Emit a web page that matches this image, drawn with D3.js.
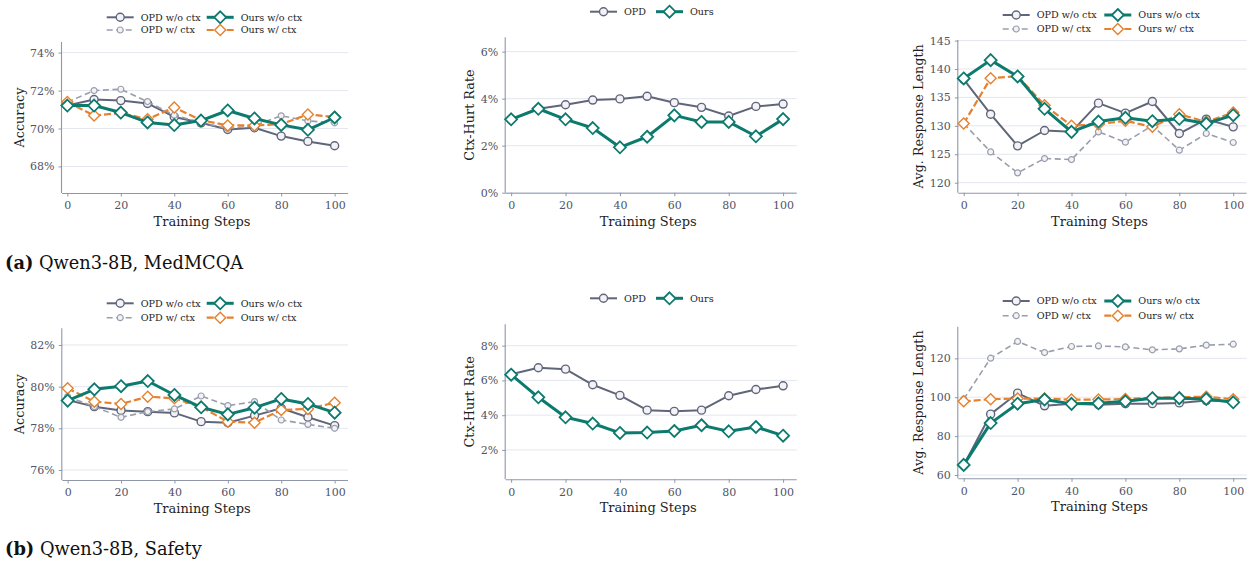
<!DOCTYPE html>
<html><head><meta charset="utf-8">
<script src="https://cdn.jsdelivr.net/npm/d3@7"></script>
<style>body{margin:0;background:#fff} svg{display:block} text{font-family:"DejaVu Serif",serif}</style>
</head><body><svg id="c" width="1251" height="565"></svg>
<script>
// ---------- data ----------
const steps = [0,10,20,30,40,50,60,70,80,90,100];
const xTickValues = [0,20,40,60,80,100];

// (a) Qwen3-8B, MedMCQA
const medAccOpdNoCtx  = [71.21,71.53,71.47,71.32,70.61,70.30,69.95,70.04,69.60,69.32,69.09];
const medAccOpdCtx    = [71.39,72.00,72.07,71.42,70.70,70.32,70.00,70.15,70.67,70.40,70.30];
const medAccOursNoCtx = [71.21,71.21,70.84,70.32,70.18,70.42,70.95,70.53,70.19,69.93,70.58];
const medAccOursCtx   = [71.40,70.68,70.82,70.49,71.11,70.44,70.16,70.16,70.23,70.74,70.61];
const medAccTicks = [68,70,72,74];

const medHurtOpd  = [3.12,3.57,3.74,3.94,3.99,4.10,3.83,3.63,3.26,3.67,3.77];
const medHurtOurs = [3.12,3.57,3.12,2.75,1.93,2.38,3.29,3.01,3.01,2.40,3.13];
const medHurtTicks = [0,2,4,6];

const medLenOpdNoCtx  = [138.16,132.05,126.48,129.18,128.94,133.99,132.23,134.28,128.65,131.17,129.82];
const medLenOpdCtx    = [130.41,125.42,121.73,124.25,124.07,128.94,127.12,130.06,125.72,128.65,127.07];
const medLenOursNoCtx = [138.33,141.56,138.69,132.99,128.94,130.76,131.41,130.82,131.23,130.41,131.88];
const medLenOursCtx   = [130.41,138.39,138.74,133.64,130.00,130.29,130.88,129.82,132.05,130.70,132.35];
const medLenTicks = [120,125,130,135,140,145];

// (b) Qwen3-8B, Safety
const safAccOpdNoCtx  = [79.36,79.04,78.86,78.80,78.74,78.32,78.27,78.61,78.96,78.53,78.13];
const safAccOpdCtx    = [79.52,79.04,78.53,78.80,78.93,79.55,79.09,79.28,78.40,78.19,78.00];
const safAccOursNoCtx = [79.33,79.87,80.02,80.27,79.60,79.01,78.67,78.99,79.41,79.17,78.75];
const safAccOursCtx   = [79.92,79.28,79.17,79.52,79.44,79.02,78.32,78.27,78.88,78.93,79.23];
const safAccTicks = [76,78,80,82];

const safHurtOpd  = [6.36,6.73,6.65,5.75,5.14,4.29,4.22,4.29,5.12,5.48,5.69];
const safHurtOurs = [6.33,5.03,3.88,3.52,2.98,3.00,3.09,3.42,3.07,3.32,2.82];
const safHurtTicks = [2,4,6,8];

const safLenOpdNoCtx  = [65.0,91.3,102.1,95.6,96.6,96.2,96.7,96.7,97.1,98.3,97.9];
const safLenOpdCtx    = [99.0,120.1,128.7,123.0,126.1,126.4,125.9,124.4,124.9,126.8,127.3];
const safLenOursNoCtx = [65.2,86.7,96.7,98.8,96.6,96.9,97.9,99.5,99.5,99.1,97.4];
const safLenOursCtx   = [97.9,99.0,99.3,99.3,98.8,98.8,99.1,99.8,100.0,100.3,99.0];
const safLenTicks = [60,80,100,120];

const labelsFour = ["OPD w/o ctx","OPD w/ ctx","Ours w/o ctx","Ours w/ ctx"];
const labelsTwo = ["OPD","Ours"];
const captions = [["(a)"," Qwen3-8B, MedMCQA"],["(b)"," Qwen3-8B, Safety"]];

// ---------- styles ----------
const C = {opd:"#60667a", opdL:"#9a9eac", teal:"#0d7a6e", orange:"#e5812f"};
const styleOpd     = {color:C.opd,   width:2.0, dash:null,  marker:"circle",  size:4.0,  mw:1.4, fill:"#f3f3f7"};
const styleOpdCtx  = {color:C.opdL,  width:1.6, dash:"6,3.5", marker:"circle", size:3.0, mw:1.2, fill:"#f3f3f7"};
const styleOurs    = {color:C.teal,  width:3.0, dash:null,  marker:"diamond", size:6.0,  mw:1.8, fill:"#ffffff"};
const styleOursCtx = {color:C.orange,width:2.2, dash:"7,3", marker:"diamond", size:5.5,  mw:1.4, fill:"#ffffff"};

const pct = d => d + "%";
const panels = [
  {box:[62,348,42,193],    ydom:[66.6,74.56], ticks:medAccTicks, fmt:pct, ylabel:"Accuracy", ylx:-43,
   series:[[medAccOpdNoCtx,styleOpd],[medAccOpdCtx,styleOpdCtx],[medAccOursCtx,styleOursCtx],[medAccOursNoCtx,styleOurs]],
   legend:{four:true, cols:[106.7,206.7], rows:[17.3,30]}},
  {box:[505.7,796.7,37.3,192.7], ydom:[0,6.61], ticks:medHurtTicks, fmt:pct, ylabel:"Ctx-Hurt Rate", ylx:-36.4,
   series:[[medHurtOpd,styleOpd],[medHurtOurs,styleOurs]],
   legend:{four:false, cols:[590,656], rows:[11.7]}},
  {box:[958.3,1246.7,40,192.7], ydom:[118.24,145.1], ticks:medLenTicks, fmt:d=>d, ylabel:"Avg. Response Length", ylx:-40,
   series:[[medLenOpdNoCtx,styleOpd],[medLenOpdCtx,styleOpdCtx],[medLenOursCtx,styleOursCtx],[medLenOursNoCtx,styleOurs]],
   legend:{four:true, cols:[1002.7,1104.3], rows:[15,29]}},
  {box:[62.3,348,328.3,480], ydom:[75.52,82.8], ticks:safAccTicks, fmt:pct, ylabel:"Accuracy", ylx:-43,
   series:[[safAccOpdNoCtx,styleOpd],[safAccOpdCtx,styleOpdCtx],[safAccOursCtx,styleOursCtx],[safAccOursNoCtx,styleOurs]],
   legend:{four:true, cols:[106.7,206.7], rows:[303.3,317.7]}},
  {box:[505.7,796.7,324.3,479.3], ydom:[0.31,9.23], ticks:safHurtTicks, fmt:pct, ylabel:"Ctx-Hurt Rate", ylx:-36.4,
   series:[[safHurtOpd,styleOpd],[safHurtOurs,styleOurs]],
   legend:{four:false, cols:[590,656], rows:[298.3]}},
  {box:[958.3,1246.7,326.7,478.3], ydom:[58.3,136.3], ticks:safLenTicks, fmt:d=>d, ylabel:"Avg. Response Length", ylx:-40,
   series:[[safLenOpdNoCtx,styleOpd],[safLenOpdCtx,styleOpdCtx],[safLenOursCtx,styleOursCtx],[safLenOursNoCtx,styleOurs]],
   legend:{four:true, cols:[1002.7,1104.3], rows:[301,315.7]}}
];
const captionPos = [[5,268.5],[5,554.5]];

// ---------- drawing ----------
const svg = d3.select("#c");
const diamond = {draw(ctx, size){ const r = Math.sqrt(size); ctx.moveTo(0,-r); ctx.lineTo(r,0); ctx.lineTo(0,r); ctx.lineTo(-r,0); ctx.closePath(); }};
const circle = {draw(ctx, size){ const r = Math.sqrt(size); ctx.moveTo(r,0); ctx.arc(0,0,r,0,2*Math.PI); }};
function markerPath(st){ return d3.symbol().type(st.marker==="diamond"?diamond:circle).size(st.size*st.size)(); }
const TICK_COL = "#4f5466", SPINE = "#9097aa", GRID = "#e4e7ef";

function drawMarkerSeries(g, xs, ys, values, st){
  const line = d3.line().x((d,i)=>xs(steps[i])).y(d=>ys(d));
  g.append("path").attr("d", line(values)).attr("fill","none").attr("stroke",st.color)
    .attr("stroke-width",st.width).attr("stroke-dasharray",st.dash).attr("stroke-linejoin","round").attr("stroke-linecap","butt");
  const mp = markerPath(st);
  g.selectAll(null).data(values).enter().append("path").attr("d",mp)
    .attr("transform",(d,i)=>`translate(${xs(steps[i])},${ys(d)})`)
    .attr("fill",st.fill).attr("stroke",st.color).attr("stroke-width",st.mw);
}

panels.forEach(p=>{
  const [L,R,T,B] = p.box;
  const x = d3.scaleLinear().domain([-2,105]).range([L,R]);
  const y = d3.scaleLinear().domain(p.ydom).range([B,T]);
  const g = svg.append("g");
  // grid
  g.append("g").selectAll("line").data(p.ticks).enter().append("line")
    .attr("x1",L).attr("x2",R).attr("y1",d=>y(d)).attr("y2",d=>y(d)).attr("stroke",GRID).attr("stroke-width",1);
  // axes
  const xa = g.append("g").attr("transform",`translate(0,${B})`)
    .call(d3.axisBottom(x).tickValues(xTickValues).tickSize(3.5).tickPadding(5));
  const ya = g.append("g").attr("transform",`translate(${L},0)`)
    .call(d3.axisLeft(y).tickValues(p.ticks).tickFormat(p.fmt).tickSize(3.5).tickPadding(4));
  [xa,ya].forEach(a=>{
    a.select(".domain").attr("stroke",SPINE).attr("stroke-width",1.1).attr("d", a===xa?`M${L},0.5H${R}`:`M-0.5,${B}V${T}`);
    a.selectAll(".tick line").attr("stroke",SPINE).attr("stroke-width",1);
    a.selectAll(".tick text").attr("fill",TICK_COL).style("font-size","11px").style("font-family","DejaVu Serif");
  });
  // axis titles
  g.append("text").attr("x",(L+R)/2 - 3).attr("y",B+33).attr("text-anchor","middle")
    .style("font-size","13px").attr("fill","#1e1e1e").text("Training Steps");
  g.append("text").attr("transform",`translate(${L+p.ylx},${(T+B)/2}) rotate(-90)`).attr("dy","0.36em")
    .attr("text-anchor","middle").style("font-size","12.8px").attr("fill","#1e1e1e").text(p.ylabel);
  // series
  const sg = g.append("g");
  p.series.forEach(([vals,st])=>drawMarkerSeries(sg,x,y,vals,st));
  // legend
  const lg = g.append("g");
  let entries;
  if(p.legend.four){
    entries = [
      [labelsFour[0],styleOpd,p.legend.cols[0],p.legend.rows[0]],
      [labelsFour[1],styleOpdCtx,p.legend.cols[0],p.legend.rows[1]],
      [labelsFour[2],styleOurs,p.legend.cols[1],p.legend.rows[0]],
      [labelsFour[3],styleOursCtx,p.legend.cols[1],p.legend.rows[1]]];
  } else {
    entries = [[labelsTwo[0],styleOpd,p.legend.cols[0],p.legend.rows[0]],
               [labelsTwo[1],styleOurs,p.legend.cols[1],p.legend.rows[0]]];
  }
  entries.forEach(([lab,st,lx,ly])=>{
    const hl = 27;
    lg.append("line").attr("x1",lx).attr("x2",lx+hl).attr("y1",ly).attr("y2",ly)
      .attr("stroke",st.color).attr("stroke-width",st.width).attr("stroke-dasharray",st.dash);
    lg.append("path").attr("d",markerPath(st)).attr("transform",`translate(${lx+hl/2},${ly})`)
      .attr("fill",st.fill).attr("stroke",st.color).attr("stroke-width",st.mw);
    lg.append("text").attr("x",lx+hl+7).attr("y",ly).attr("dy","0.35em").style("font-size","9.6px")
      .attr("fill","#1e1e1e").text(lab);
  });
});

captions.forEach((c,i)=>{
  const t = svg.append("text").attr("x",captionPos[i][0]).attr("y",captionPos[i][1])
    .style("font-size","17.8px").attr("fill","#111");
  t.append("tspan").style("font-weight","bold").text(c[0]);
  t.append("tspan").text(c[1]);
});
</script></body></html>
